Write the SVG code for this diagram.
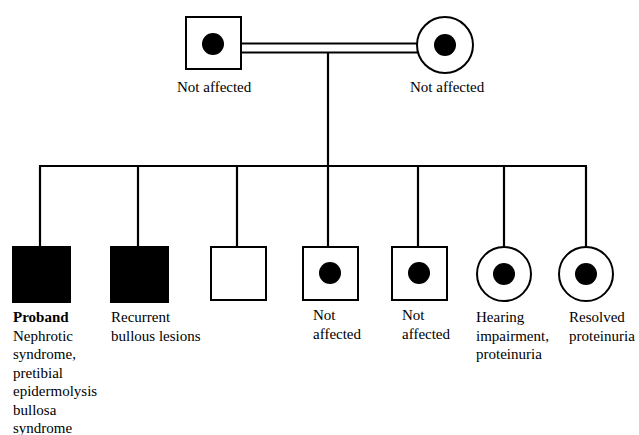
<svg xmlns="http://www.w3.org/2000/svg" width="639" height="435" viewBox="0 0 639 435">
<style>
.sym{fill:#fff;stroke:#000;stroke-width:2}
.aff{fill:#000;stroke:#000;stroke-width:2}
.dot{fill:#000}
.ln{fill:none;stroke:#000;stroke-width:2.2}
text{font-family:"Liberation Serif","Times New Roman",serif;font-size:15px;fill:#000}
.b{font-weight:bold}
</style>
<rect width="639" height="435" fill="#fff"/>
<g id="connectors">
<line class="ln" x1="241" y1="43.5" x2="418" y2="43.5" stroke-width="1.8"/>
<line class="ln" x1="241" y1="52.5" x2="418" y2="52.5" stroke-width="1.8"/>
<line class="ln" x1="328" y1="53" x2="328" y2="166"/>
<line class="ln" x1="39" y1="166" x2="587" y2="166"/>
<line class="ln" x1="40" y1="166" x2="40" y2="247"/>
<line class="ln" x1="138" y1="166" x2="138" y2="247"/>
<line class="ln" x1="237" y1="166" x2="237" y2="247"/>
<line class="ln" x1="328" y1="166" x2="328" y2="247"/>
<line class="ln" x1="418" y1="166" x2="418" y2="247"/>
<line class="ln" x1="504" y1="166" x2="504" y2="247"/>
<line class="ln" x1="586" y1="166" x2="586" y2="247"/>
</g>
<g id="father">
<rect class="sym" x="186" y="17" width="55" height="52"/>
<circle class="dot" cx="213" cy="44" r="11"/>
<text x="177" y="92">Not affected</text>
</g>
<g id="mother">
<circle class="sym" cx="445" cy="45" r="28"/>
<circle class="dot" cx="445" cy="45" r="11"/>
<text x="410" y="92">Not affected</text>
</g>
<g id="child1">
<rect class="aff" x="13" y="247" width="57" height="55"/>
<text x="13" y="322"><tspan class="b">Proband</tspan><tspan x="13" dy="18.5">Nephrotic</tspan><tspan x="13" dy="18.5">syndrome,</tspan><tspan x="13" dy="18.5">pretibial</tspan><tspan x="13" dy="18.5">epidermolysis</tspan><tspan x="13" dy="18.5">bullosa</tspan><tspan x="13" dy="18.5">syndrome</tspan></text>
</g>
<g id="child2">
<rect class="aff" x="111" y="247" width="57" height="55"/>
<text x="111" y="322">Recurrent<tspan x="111" dy="18.5">bullous lesions</tspan></text>
</g>
<g id="child3">
<rect class="sym" x="211" y="247" width="55" height="53"/>
</g>
<g id="child4">
<rect class="sym" x="303" y="247" width="55" height="53"/>
<circle class="dot" cx="330" cy="273" r="11"/>
<text x="313" y="320">Not<tspan x="313" dy="18.5">affected</tspan></text>
</g>
<g id="child5">
<rect class="sym" x="392" y="247" width="55" height="53"/>
<circle class="dot" cx="419" cy="273" r="11"/>
<text x="402" y="320">Not<tspan x="402" dy="18.5">affected</tspan></text>
</g>
<g id="child6">
<circle class="sym" cx="504" cy="274" r="27"/>
<circle class="dot" cx="504" cy="274" r="11"/>
<text x="476" y="322">Hearing<tspan x="476" dy="18.5">impairment,</tspan><tspan x="476" dy="18.5">proteinuria</tspan></text>
</g>
<g id="child7">
<circle class="sym" cx="586" cy="274" r="27"/>
<circle class="dot" cx="586" cy="274" r="11"/>
<text x="569" y="322">Resolved<tspan x="569" dy="18.5">proteinuria</tspan></text>
</g>
</svg>
